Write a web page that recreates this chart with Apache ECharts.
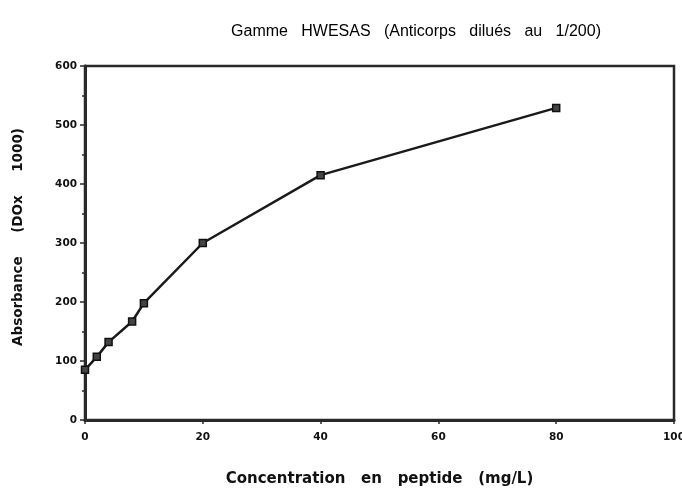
<!DOCTYPE html>
<html><head><meta charset="utf-8">
<script src="https://cdn.jsdelivr.net/npm/echarts@6/dist/echarts.min.js"></script>
<style>html,body{margin:0;padding:0;background:#fff}#c{width:682px;height:493px}</style>
</head><body><div id="c"></div>
<script>
var concentration = [0, 2, 4, 8, 10, 20, 40, 80];
var absorbance = [85, 107, 132, 167, 198, 300, 415, 529];
var xTicks = [0, 20, 40, 60, 80, 100];
var yTicks = [0, 100, 200, 300, 400, 500, 600];
var titleText = 'Gamme   HWESAS   (Anticorps   dilués   au   1/200)';
var xName = 'Concentration   en   peptide   (mg/L)';
var yName = 'Absorbance     (DOx     1000)';

var chart = echarts.init(document.getElementById('c'), null, {renderer: 'canvas'});
var pts = concentration.map(function (c, i) { return [c, absorbance[i]]; });
var labelFont = {fontFamily: 'DejaVu Sans', fontSize: 10.5, fontWeight: 'bold', color: '#111'};
chart.setOption({
  animation: false,
  backgroundColor: '#fff',
  title: {
    text: titleText, left: 411, top: 19, textAlign: 'center',
    textStyle: {fontFamily: 'Liberation Sans', fontSize: 16, fontWeight: 'normal', color: '#000'}
  },
  grid: {left: 85, right: 8, top: 66, bottom: 73, show: true, borderColor: '#2a2a2a', borderWidth: 2.5,
    outerBoundsMode: 'none', containLabel: false},
  xAxis: {
    type: 'value', min: 0, max: 100, interval: 20,
    name: xName, nameLocation: 'middle', nameGap: 52,
    nameTextStyle: {fontFamily: 'DejaVu Sans', fontSize: 15, fontWeight: 'bold', color: '#111'},
    axisLine: {lineStyle: {color: '#2a2a2a', width: 3}},
    axisTick: {length: 4, lineStyle: {color: '#2a2a2a', width: 1.5}},
    minorTick: {show: true, splitNumber: 2, length: 2, lineStyle: {color: '#2a2a2a', width: 1.2}},
    axisLabel: Object.assign({margin: 12, hideOverlap: false,
      formatter: function (v) { return xTicks.indexOf(v) >= 0 ? String(v) : ''; }}, labelFont),
    splitLine: {show: false}
  },
  yAxis: {
    type: 'value', min: 0, max: 600, interval: 100,
    name: yName, nameLocation: 'middle', nameGap: 60, nameRotate: 90,
    nameTextStyle: {fontFamily: 'DejaVu Sans', fontSize: 13.5, fontWeight: 'bold', color: '#111', padding: [0, 0, 0, 12]},
    axisLine: {lineStyle: {color: '#2a2a2a', width: 3}},
    axisTick: {length: 5, lineStyle: {color: '#2a2a2a', width: 1.5}},
    minorTick: {show: true, splitNumber: 2, length: 3, lineStyle: {color: '#2a2a2a', width: 1.5}},
    axisLabel: Object.assign({margin: 8,
      formatter: function (v) { return yTicks.indexOf(v) >= 0 ? String(v) : ''; }}, labelFont),
    splitLine: {show: false}
  },
  series: [{
    type: 'line', data: pts,
    symbol: 'rect', symbolSize: 7, showSymbol: true,
    lineStyle: {color: '#1a1a1a', width: 2.5},
    itemStyle: {color: '#444', borderColor: '#111', borderWidth: 1.5}
  }]
});
</script></body></html>
